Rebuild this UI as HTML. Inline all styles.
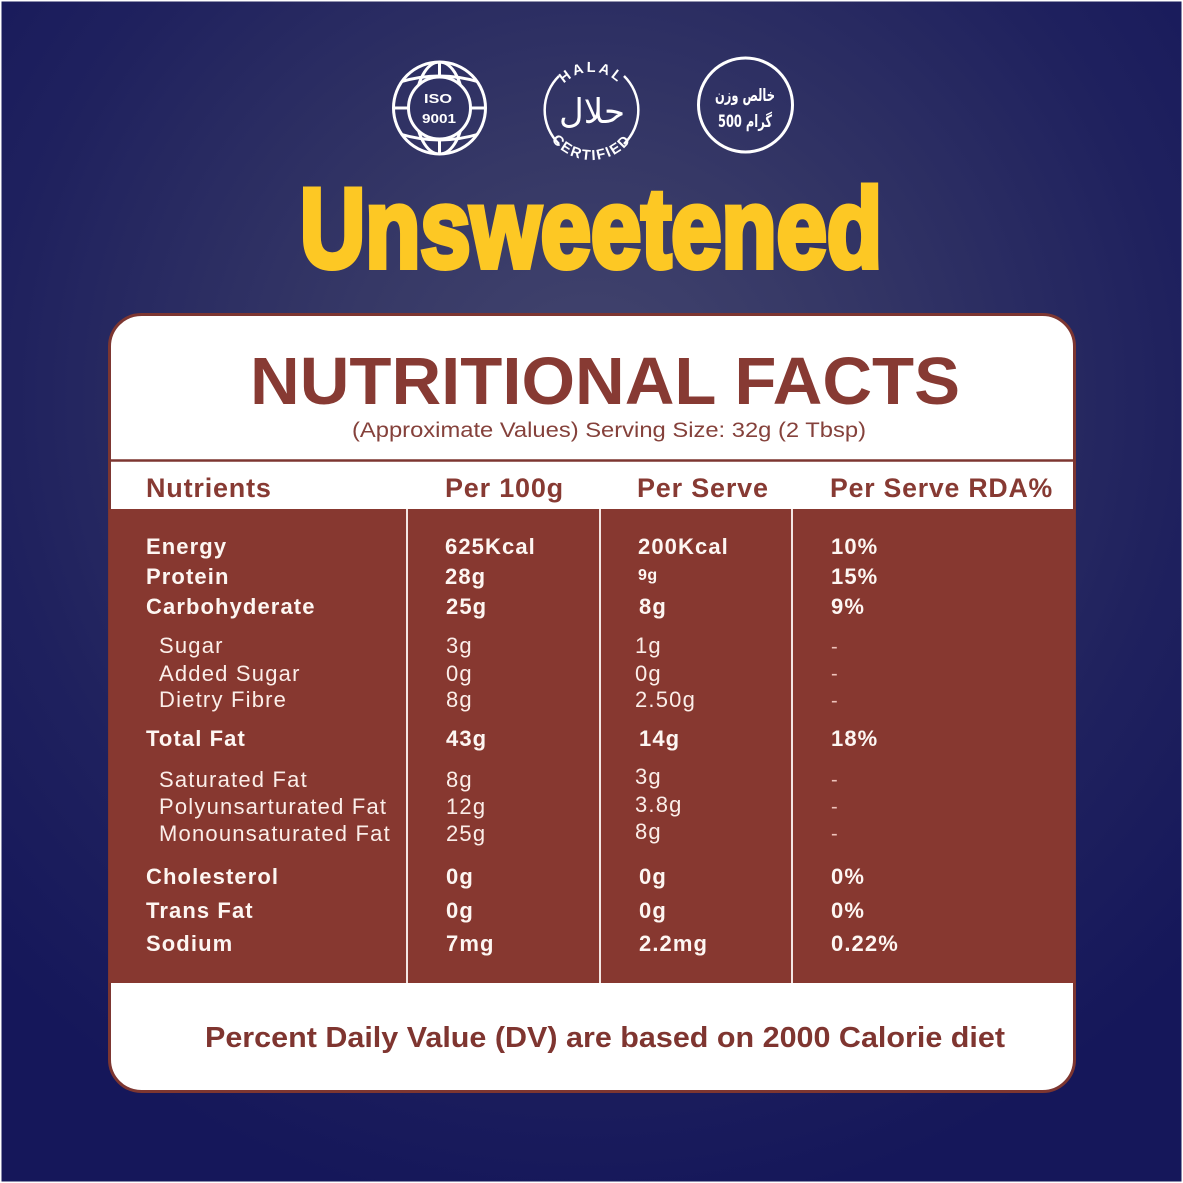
<!DOCTYPE html>
<html><head><meta charset="utf-8"><style>
html,body{margin:0;padding:0;background:#15175a;}
svg{display:block;}
.b{font-family:"Liberation Sans",sans-serif;font-weight:bold;fill:#fdf6f2;font-size:22px;letter-spacing:1.1px;}
.r{font-family:"Liberation Sans",sans-serif;fill:#fbeee9;font-size:22px;letter-spacing:1.2px;}
.h{font-family:"Liberation Sans",sans-serif;font-weight:bold;fill:#873a33;font-size:27px;letter-spacing:0.8px;}
.d{font-family:"Liberation Sans",sans-serif;fill:#eec3bb;font-size:20px;}
</style></head><body>
<svg width="1183" height="1183" viewBox="0 0 1183 1183" xmlns="http://www.w3.org/2000/svg">
<defs>
<radialGradient id="bg" gradientUnits="userSpaceOnUse" cx="590" cy="400" r="820">
<stop offset="0" stop-color="#43456e"/>
<stop offset="0.3" stop-color="#363866"/>
<stop offset="0.72" stop-color="#1f215e"/>
<stop offset="1" stop-color="#15175a"/>
</radialGradient>
<mask id="isoMask"><rect x="380" y="50" width="120" height="120" fill="white"/><circle cx="439.5" cy="108" r="31" fill="black"/></mask>
<clipPath id="isoClip"><circle cx="439.5" cy="108" r="46"/></clipPath>
<path id="halTop" d="M 553.5 110 A 38 38 0 0 1 629.5 110"/>
<path id="halBot" d="M 541.5 110 A 50 50 0 0 0 641.5 110"/>
</defs>
<rect x="0" y="0" width="1183" height="1183" fill="url(#bg)"/>
<rect x="0.75" y="0.75" width="1181.5" height="1181.5" fill="none" stroke="#ffffff" stroke-width="1.5"/>

<!-- ISO icon -->
<g stroke="#ffffff" stroke-width="3" fill="none">
<circle cx="439.5" cy="108" r="46"/>
<circle cx="439.5" cy="108" r="31"/>
<g mask="url(#isoMask)" clip-path="url(#isoClip)">
<line x1="439.5" y1="60" x2="439.5" y2="156"/>
<line x1="392" y1="108" x2="487" y2="108"/>
<ellipse cx="439.5" cy="108" rx="24" ry="46"/>
<path d="M 400 82 Q 439.5 70 479 82"/>
<path d="M 400 134 Q 439.5 146 479 134"/>
</g>
</g>
<text x="438" y="103" text-anchor="middle" font-family="Liberation Sans" font-weight="bold" font-size="12.5" fill="#fff" textLength="28" lengthAdjust="spacingAndGlyphs">ISO</text>
<text x="439" y="123" text-anchor="middle" font-family="Liberation Sans" font-weight="bold" font-size="12.5" fill="#fff" textLength="34" lengthAdjust="spacingAndGlyphs">9001</text>

<!-- Halal icon -->
<g stroke="#ffffff" stroke-width="2.5" fill="none">
<path d="M 559 76 A 47.5 47.5 0 0 0 559 144"/>
<path d="M 624 76 A 47.5 47.5 0 0 1 624 144"/>
</g>
<text font-family="Liberation Sans" font-weight="bold" font-size="14.5" fill="#fff" letter-spacing="2.5"><textPath href="#halTop" startOffset="50%" text-anchor="middle">HALAL</textPath></text>
<text font-family="Liberation Sans" font-weight="bold" font-size="14.5" fill="#fff" letter-spacing="1.8"><textPath href="#halBot" startOffset="50%" text-anchor="middle">CERTIFIED</textPath></text>
<text x="592" y="123" text-anchor="middle" font-family="DejaVu Sans" font-size="34" fill="#fff">حلال</text>

<!-- Weight icon -->
<circle cx="745.5" cy="105" r="47" stroke="#ffffff" stroke-width="3" fill="none"/>
<text x="745" y="101" text-anchor="middle" font-family="DejaVu Sans" font-weight="bold" font-size="17" fill="#fff" textLength="60" lengthAdjust="spacingAndGlyphs">خالص وزن</text>
<text x="745" y="127" text-anchor="middle" font-family="DejaVu Sans" font-weight="bold" font-size="17" fill="#fff" textLength="54" lengthAdjust="spacingAndGlyphs">گرام 500</text>

<!-- Title -->
<text x="300" y="267" font-family="Liberation Sans" font-weight="bold" font-size="112" fill="#fdc824" stroke="#fdc824" stroke-width="6" stroke-linejoin="miter" textLength="582" lengthAdjust="spacingAndGlyphs">Unsweetened</text>

<!-- Card -->
<rect x="109.5" y="314.5" width="965" height="777" rx="32" ry="32" fill="#ffffff" stroke="#7d3631" stroke-width="3"/>
<rect x="109" y="509" width="966" height="474" fill="#873830"/>
<line x1="110" y1="460.5" x2="1074" y2="460.5" stroke="#7d3631" stroke-width="2.5"/>
<g stroke="#f3e6e3" stroke-width="2">
<line x1="407" y1="509" x2="407" y2="983"/>
<line x1="600" y1="509" x2="600" y2="983"/>
<line x1="792" y1="509" x2="792" y2="983"/>
</g>

<text x="250" y="404" font-family="Liberation Sans" font-weight="bold" font-size="67" fill="#873a33" textLength="710" lengthAdjust="spacingAndGlyphs">NUTRITIONAL FACTS</text>
<text x="352" y="437" font-family="Liberation Sans" font-size="21.5" fill="#85413b" textLength="514" lengthAdjust="spacingAndGlyphs">(Approximate Values) Serving Size: 32g (2 Tbsp)</text>

<text class="h" x="146" y="497">Nutrients</text>
<text class="h" x="445" y="497">Per 100g</text>
<text class="h" x="637" y="497">Per Serve</text>
<text class="h" x="830" y="497" textLength="223" lengthAdjust="spacingAndGlyphs">Per Serve RDA%</text>

<!-- rows -->
<text class="b" x="146" y="554">Energy</text>
<text class="b" x="445" y="554">625Kcal</text>
<text class="b" x="638" y="554">200Kcal</text>
<text class="b" x="831" y="554">10%</text>

<text class="b" x="146" y="584">Protein</text>
<text class="b" x="445" y="584">28g</text>
<text class="b" x="638" y="580" style="font-size:16px;letter-spacing:0.5px">9g</text>
<text class="b" x="831" y="584">15%</text>

<text class="b" x="146" y="614">Carbohyderate</text>
<text class="b" x="446" y="614">25g</text>
<text class="b" x="639" y="614">8g</text>
<text class="b" x="831" y="614">9%</text>

<text class="r" x="159" y="653">Sugar</text>
<text class="r" x="446" y="653">3g</text>
<text class="r" x="635" y="653">1g</text>
<text class="d" x="831" y="653">-</text>

<text class="r" x="159" y="681">Added Sugar</text>
<text class="r" x="446" y="681">0g</text>
<text class="r" x="635" y="681">0g</text>
<text class="d" x="831" y="680">-</text>

<text class="r" x="159" y="707">Dietry Fibre</text>
<text class="r" x="446" y="707">8g</text>
<text class="r" x="635" y="707">2.50g</text>
<text class="d" x="831" y="707">-</text>

<text class="b" x="146" y="746">Total Fat</text>
<text class="b" x="446" y="746">43g</text>
<text class="b" x="639" y="746">14g</text>
<text class="b" x="831" y="746">18%</text>

<text class="r" x="159" y="787">Saturated Fat</text>
<text class="r" x="446" y="787">8g</text>
<text class="r" x="635" y="784">3g</text>
<text class="d" x="831" y="786">-</text>

<text class="r" x="159" y="814">Polyunsarturated Fat</text>
<text class="r" x="446" y="814">12g</text>
<text class="r" x="635" y="812">3.8g</text>
<text class="d" x="831" y="813">-</text>

<text class="r" x="159" y="841">Monounsaturated Fat</text>
<text class="r" x="446" y="841">25g</text>
<text class="r" x="635" y="839">8g</text>
<text class="d" x="831" y="840">-</text>

<text class="b" x="146" y="884">Cholesterol</text>
<text class="b" x="446" y="884">0g</text>
<text class="b" x="639" y="884">0g</text>
<text class="b" x="831" y="884">0%</text>

<text class="b" x="146" y="918">Trans Fat</text>
<text class="b" x="446" y="918">0g</text>
<text class="b" x="639" y="918">0g</text>
<text class="b" x="831" y="918">0%</text>

<text class="b" x="146" y="951">Sodium</text>
<text class="b" x="446" y="951">7mg</text>
<text class="b" x="639" y="951">2.2mg</text>
<text class="b" x="831" y="951">0.22%</text>

<text x="205" y="1047" font-family="Liberation Sans" font-weight="bold" font-size="28.5" fill="#7f3530" textLength="800" lengthAdjust="spacingAndGlyphs">Percent Daily Value (DV) are based on 2000 Calorie diet</text>
</svg>
</body></html>
